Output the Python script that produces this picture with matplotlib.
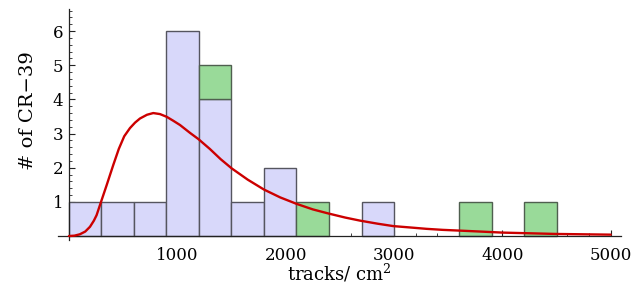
import matplotlib
matplotlib.use("Agg")
import matplotlib.pyplot as plt
import numpy as np
from matplotlib.ticker import MultipleLocator, FixedLocator

plt.rcParams['font.family'] = ['DejaVu Serif']
plt.rcParams['mathtext.fontset'] = 'dejavuserif'

# histogram bins (width 300)
bin_edges = [0, 300, 600, 900, 1200, 1500, 1800, 2100, 2400, 2700, 3000, 3300, 3600, 3900, 4200, 4500]
counts_blue = [1, 1, 1, 6, 4, 1, 2, 0, 0, 1, 0, 0, 0, 0, 0]
counts_green = [0, 0, 0, 0, 1, 0, 0, 1, 0, 0, 0, 0, 1, 0, 1]

# fitted distribution
curve_x = [0, 50, 100, 150, 194, 230, 255, 296, 348, 409, 460, 510, 563, 610, 655, 720,
           778, 840, 902, 960, 1025, 1117, 1194, 1300, 1400, 1502, 1650, 1800, 1950, 2102,
           2250, 2394, 2550, 2687, 2850, 2994, 3150, 3300, 3450, 3594, 3800, 4000, 4250,
           4500, 4750, 5000]
curve_y = [0.0, 0.01, 0.05, 0.13, 0.27, 0.45, 0.61, 1.0, 1.49, 2.08, 2.55, 2.92, 3.16,
           3.32, 3.44, 3.55, 3.6, 3.57, 3.49, 3.38, 3.25, 3.02, 2.84, 2.55, 2.25, 1.98,
           1.65, 1.36, 1.13, 0.94, 0.78, 0.66, 0.54, 0.45, 0.36, 0.29, 0.25, 0.21, 0.18,
           0.16, 0.13, 0.1, 0.08, 0.06, 0.05, 0.04]

fig = plt.figure(figsize=(6.32, 2.93), dpi=100)
ax = fig.add_axes([0.0918, 0.1805, 0.8908, 0.788])

left = np.array(bin_edges[:-1])
width = np.diff(bin_edges)
blue = np.array(counts_blue)
green = np.array(counts_green)

mb = blue > 0
ax.bar(left[mb], blue[mb], width=width[mb], align='edge', color='#d8d8fa',
       edgecolor='#55555f', linewidth=1.0, zorder=2)
mg = green > 0
ax.bar(left[mg], green[mg], width=width[mg], bottom=blue[mg], align='edge',
       color='#99da99', edgecolor='#4f5f4f', linewidth=1.0, zorder=2)

ax.plot(curve_x, curve_y, color='#cc0000', lw=1.7, zorder=3,
        solid_joinstyle='round', solid_capstyle='round')

ax.set_xlim(-101, 5095)
ax.set_ylim(-0.12, 6.64)

for s in ['top', 'right']:
    ax.spines[s].set_visible(False)
ax.spines['left'].set_position(('data', 0))
ax.spines['bottom'].set_position(('data', 0))
for s in ['left', 'bottom']:
    ax.spines[s].set_linewidth(0.9)
    ax.spines[s].set_color('#222222')

ax.xaxis.set_major_locator(FixedLocator([1000, 2000, 3000, 4000, 5000]))
ax.xaxis.set_minor_locator(MultipleLocator(200))
ax.yaxis.set_major_locator(FixedLocator([1, 2, 3, 4, 5, 6]))
ax.yaxis.set_minor_locator(MultipleLocator(0.2))
ax.tick_params(axis='both', which='major', direction='in', length=4.5, width=0.8,
               labelsize=12, color='#222222')
ax.tick_params(axis='both', which='minor', direction='in', length=2.5, width=0.6,
               color='#222222')
ax.tick_params(axis='x', which='major', pad=8)
ax.tick_params(axis='y', which='major', pad=4)

ax.set_xlabel('tracks/ cm$^2$', fontsize=13)
ax.xaxis.set_label_coords(0.5, -0.095)
ax.set_ylabel('# of CR\u221239', fontsize=14)
ax.yaxis.set_label_coords(-0.037, 0.56)

fig.savefig('out.png', dpi=100)
